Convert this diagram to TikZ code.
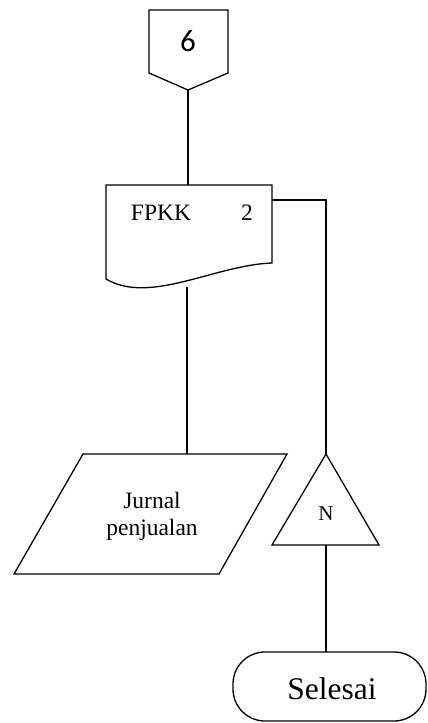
\documentclass[tikz,border=0pt]{standalone}
\usepackage{fontspec}
\setmainfont{Liberation Serif}
\newfontfamily\labelsans{Carlito}
\begin{document}
\begin{tikzpicture}[x=1pt,y=-1pt,
  outline/.style={draw=black,line width=1.3pt,line join=miter},
  wire/.style={draw=black,line width=1.3pt},
  txt/.style={inner sep=0pt,font=\fontsize{23.5}{27}\selectfont,align=center}]
\useasboundingbox (0,0) rectangle (428,723);

% off-page connector "6"
\draw[outline] (149,10) -- (228,10) -- (228,73) -- (188,90) -- (149,73) -- cycle;
\node[inner sep=0pt,font=\labelsans\fontsize{31}{34}\selectfont] (off6) at (188,41) {6};
\coordinate (offtip) at (188,90);

% document FPKK 2
\draw[outline] (106,185) -- (272,185) -- (272,263)
  .. controls (215,265) and (150,305) .. (106,279) -- cycle;
\node[txt] (fpkk) at (161,213) {FPKK};
\node[txt] (fpkknum) at (247,213) {2};
\coordinate (doctop) at (188,185);
\coordinate (docbottom) at (187,287);
\coordinate (docright) at (272,200);
\coordinate (bend) at (326,200);

% parallelogram Jurnal penjualan
\draw[outline] (83,454) -- (287,454) -- (219,574) -- (14,574) -- cycle;
\node[txt] (jurnal) at (152,516) {Jurnal\\penjualan};
\coordinate (jurtop) at (187,454);

% triangle N
\draw[outline] (326,454) -- (379,545) -- (272,545) -- cycle;
\node[inner sep=0pt,font=\fontsize{21}{24}\selectfont] (n) at (326,514) {N};
\coordinate (triapex) at (326,454);
\coordinate (tribase) at (326,545);

% terminator Selesai
\draw[outline,rounded corners=32pt] (233,652) rectangle (426,721);
\node[inner sep=0pt,font=\fontsize{31.5}{35}\selectfont] (selesai) at (332,689) {Selesai};
\coordinate (termtop) at (326,652);

% connectors
\draw[wire] (offtip) -- (doctop);
\draw[wire] (docbottom) -- (jurtop);
\draw[wire] (docright) -- (bend) -- (triapex);
\draw[wire] (tribase) -- (termtop);
\end{tikzpicture}
\end{document}
